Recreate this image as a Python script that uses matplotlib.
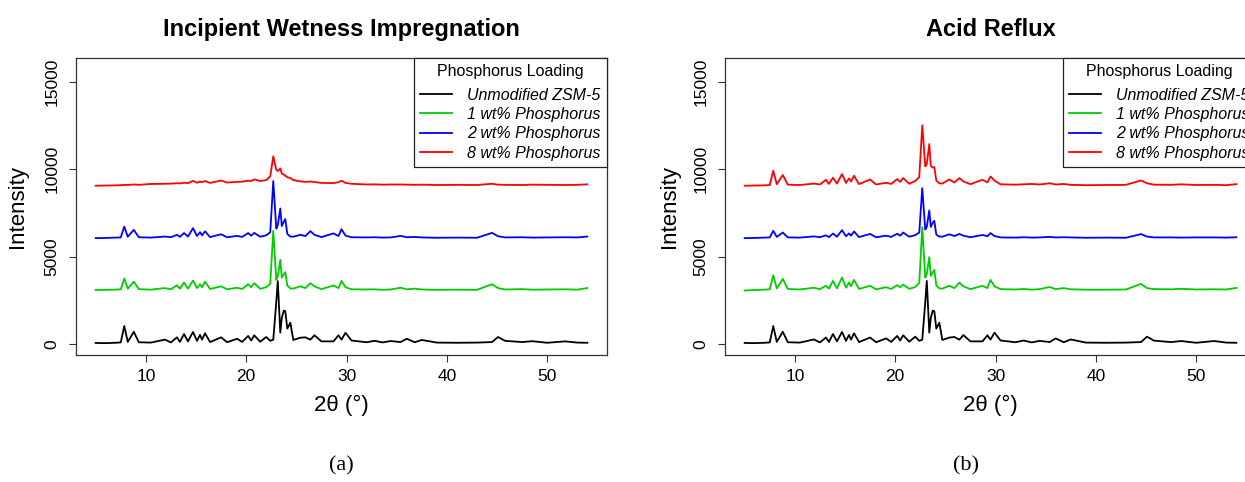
import matplotlib
matplotlib.use("Agg")
import matplotlib.pyplot as plt

plt.rcParams['font.family'] = ['Liberation Sans', 'DejaVu Sans']

# 2-theta positions (degrees) shared by all patterns
two_theta = [5.0, 6.0, 7.0, 7.5, 7.85, 8.2, 8.8, 9.3, 10.5, 11.9,
             12.5, 13.1, 13.4, 13.8, 14.2, 14.7, 15.1, 15.4, 15.6, 15.9,
             16.4, 17.5, 18.1, 19.1, 19.6, 20.2, 20.5, 20.8, 21.4, 22.0,
             22.4, 22.7, 23.0, 23.15, 23.4, 23.55, 23.75, 23.9, 24.1, 24.4,
             24.7, 25.4, 25.9, 26.4, 26.8, 27.5, 28.7, 29.2, 29.5, 29.9,
             30.5, 32.0, 32.8, 33.6, 34.4, 35.4, 36.0, 36.8, 37.5, 39.0,
             41.0, 43.0, 44.5, 45.1, 45.8, 47.5, 48.5, 50.0, 51.8, 53.0,
             54.0]

labels = ['Unmodified ZSM-5', '1 wt% Phosphorus', '2 wt% Phosphorus', '8 wt% Phosphorus']
colors = ['#000000', '#00CD00', '#0000FF', '#FF0000']
offsets = [0, 3000, 6000, 9000]

# (a) Incipient Wetness Impregnation
iwi_unmod = [60, 50, 70, 90, 1030, 120, 700, 100, 80, 250,
             90, 380, 120, 570, 150, 690, 180, 520, 250, 610,
             110, 380, 100, 300, 120, 460, 200, 500, 130, 400,
             180, 250, 2400, 3600, 650, 1500, 1910, 1880, 880, 1220,
             230, 360, 380, 250, 500, 150, 150, 500, 250, 640,
             200, 100, 180, 90, 170, 110, 300, 100, 230, 80,
             70, 80, 110, 400, 180, 110, 160, 70, 150, 80,
             70]
iwi_1wt = [90, 100, 110, 130, 745, 170, 570, 140, 110, 200,
           130, 360, 160, 515, 170, 630, 200, 420, 250, 570,
           150, 300, 130, 220, 150, 420, 250, 480, 160, 250,
           450, 3480, 670, 900, 1815, 800, 1000, 1110, 350, 180,
           170, 300, 200, 480, 300, 140, 350, 200, 610, 250,
           130, 120, 130, 100, 120, 220, 130, 170, 120, 100,
           110, 100, 420, 200, 120, 140, 110, 120, 130, 110,
           200]
iwi_2wt = [60, 70, 90, 100, 720, 140, 535, 110, 90, 150,
           110, 250, 130, 350, 150, 630, 180, 400, 220, 450,
           120, 280, 110, 190, 130, 350, 200, 360, 140, 220,
           400, 3325, 600, 800, 1760, 750, 1000, 1150, 300, 150,
           140, 250, 180, 460, 250, 120, 330, 180, 570, 200,
           110, 100, 110, 90, 100, 190, 110, 130, 100, 80,
           90, 80, 360, 170, 100, 110, 90, 100, 110, 100,
           150]
iwi_8wt = [60, 70, 80, 90, 110, 100, 130, 110, 160, 170,
           180, 200, 190, 230, 210, 340, 230, 300, 260, 330,
           220, 360, 240, 280, 290, 350, 330, 420, 330, 380,
           600, 1740, 980, 900, 1050, 750, 700, 630, 550, 500,
           380, 310, 280, 300, 270, 220, 210, 260, 350, 220,
           170, 130, 140, 120, 130, 130, 120, 110, 120, 100,
           110, 100, 170, 120, 110, 100, 120, 110, 100, 110,
           140]

# (b) Acid Reflux
ar_unmod = [60, 50, 70, 90, 1030, 120, 700, 100, 80, 260,
            90, 370, 120, 570, 150, 690, 180, 520, 250, 610,
            110, 370, 100, 320, 120, 460, 200, 500, 130, 420,
            180, 250, 2400, 3610, 650, 1500, 1910, 1870, 880, 1220,
            230, 370, 400, 250, 510, 150, 150, 500, 250, 650,
            200, 100, 200, 90, 180, 110, 320, 100, 260, 80,
            70, 80, 110, 420, 190, 110, 170, 70, 170, 80,
            70]
ar_1wt = [60, 90, 110, 130, 935, 180, 725, 150, 120, 220,
          140, 330, 170, 610, 190, 800, 220, 520, 300, 670,
          150, 330, 130, 250, 150, 370, 250, 400, 160, 260,
          500, 3690, 800, 1000, 1970, 900, 1100, 1240, 350, 180,
          170, 330, 200, 515, 300, 140, 330, 200, 670, 300,
          140, 120, 150, 110, 140, 260, 140, 200, 130, 110,
          110, 120, 440, 200, 140, 130, 160, 120, 130, 120,
          210]
ar_2wt = [60, 70, 90, 100, 480, 130, 380, 100, 90, 160,
          110, 220, 120, 320, 140, 515, 170, 330, 200, 440,
          120, 300, 110, 200, 130, 310, 200, 380, 140, 230,
          380, 2920, 550, 700, 1645, 700, 950, 1050, 260, 150,
          140, 280, 180, 300, 200, 110, 240, 170, 350, 180,
          100, 90, 110, 90, 100, 130, 100, 110, 100, 80,
          90, 80, 290, 150, 100, 100, 90, 100, 100, 90,
          110]
ar_8wt = [60, 70, 80, 100, 920, 150, 670, 120, 100, 180,
          130, 400, 160, 515, 180, 730, 220, 480, 300, 630,
          150, 420, 130, 230, 160, 440, 280, 500, 170, 330,
          550, 3520, 1165, 1300, 2445, 1200, 1100, 1130, 350, 200,
          180, 420, 240, 500, 300, 150, 400, 250, 590, 350,
          140, 120, 140, 160, 130, 200, 130, 160, 110, 90,
          100, 110, 360, 200, 120, 110, 140, 100, 110, 90,
          150]

panels = [
    ('Incipient Wetness Impregnation', '(a)', [iwi_unmod, iwi_1wt, iwi_2wt, iwi_8wt]),
    ('Acid Reflux', '(b)', [ar_unmod, ar_1wt, ar_2wt, ar_8wt]),
]

W, H = 1245, 482
fig = plt.figure(figsize=(W / 100, H / 100), dpi=100)

# axes boxes in pixels: left, top, right, bottom
boxes = [(76, 58, 607, 355), (725, 58, 1256, 355)]
caption_x = [341, 966]
ylabel_x = [18, 669]

for (title, cap, series), (l, t, r, b), cx, lx in zip(panels, boxes, caption_x, ylabel_x):
    ax = fig.add_axes([l / W, 1 - b / H, (r - l) / W, (b - t) / H])
    for vals, lab, col, off in zip(series, labels, colors, offsets):
        ax.plot(two_theta, [v + off for v in vals], color=col, lw=1.3, label=lab)

    ax.set_xlim(3.04, 55.96)
    ax.set_ylim(-630, 16370)
    ax.set_xticks([10, 20, 30, 40, 50])
    ax.set_yticks([0, 5000, 10000, 15000])
    ax.tick_params(direction='out', length=5, width=0.8, labelsize=12.5, color='#333333')
    ax.tick_params(axis='x', pad=5)
    ax.tick_params(axis='y', pad=7)
    for lbl in ax.get_yticklabels():
        lbl.set_rotation(90)
        lbl.set_va('center')
    for s in ax.spines.values():
        s.set_linewidth(0.9)
        s.set_color('#333333')

    ax.set_title(title, fontsize=17, fontweight='bold', pad=15.5)
    ax.set_xlabel('2θ (°)', fontsize=16, labelpad=8)
    fig.text(lx / W, 1 - 206 / H, 'Intensity', rotation=90, fontsize=16,
             ha='center', va='center')

    leg = ax.legend(loc='upper right', bbox_to_anchor=(1.0, 1.0), borderaxespad=0,
                    title='Phosphorus Loading', fancybox=False, framealpha=1,
                    edgecolor='#222222', prop={'style': 'italic', 'size': 11.5},
                    title_fontproperties={'size': 11.5}, handlelength=2.0,
                    handletextpad=0.95, labelspacing=0.27, borderpad=0.4)
    leg._legend_box.sep = 6
    leg.get_frame().set_linewidth(0.9)

    fig.text(cx / W, 1 - 466 / H, cap, fontsize=16, family='Liberation Serif',
             ha='center', va='center')

fig.savefig('out.png', dpi=100)
